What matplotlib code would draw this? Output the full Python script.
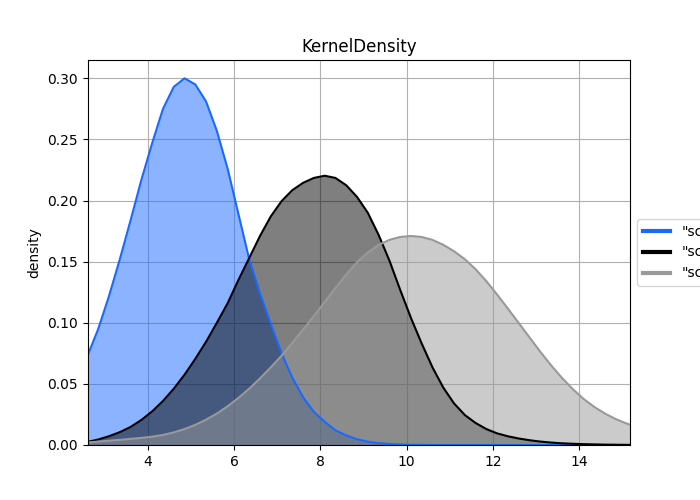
import matplotlib
matplotlib.use('Agg')
import matplotlib.pyplot as plt
from matplotlib.lines import Line2D


x = [2.60, 2.85, 3.10, 3.35, 3.60, 3.85, 4.10, 4.35, 4.60, 4.85,
     5.10, 5.35, 5.60, 5.85, 6.10, 6.35, 6.60, 6.85, 7.10, 7.35,
     7.60, 7.85, 8.10, 8.35, 8.60, 8.85, 9.10, 9.35, 9.60, 9.85,
     10.10, 10.35, 10.60, 10.85, 11.10, 11.35, 11.60, 11.85, 12.10, 12.35,
     12.60, 12.85, 13.10, 13.35, 13.60, 13.85, 14.10, 14.35, 14.60, 14.85,
     15.10, 15.18]

blue = [0.073, 0.095, 0.122, 0.152, 0.184, 0.217, 0.247, 0.275, 0.293, 0.300,
        0.295, 0.281, 0.257, 0.226, 0.189, 0.152, 0.124, 0.099, 0.075, 0.055,
        0.039, 0.027, 0.019, 0.012, 0.0078, 0.0047, 0.0027, 0.0015, 0.0008, 0.0004,
        0.0002, 0.0001, 0.0, 0.0, 0.0, 0.0, 0.0, 0.0, 0.0, 0.0,
        0.0, 0.0, 0.0, 0.0, 0.0, 0.0, 0.0, 0.0, 0.0, 0.0,
        0.0, 0.0]

black = [0.0025, 0.0045, 0.0072, 0.0105, 0.0148, 0.0205, 0.0275, 0.036, 0.046, 0.0575,
         0.0705, 0.0845, 0.100, 0.116, 0.135, 0.153, 0.171, 0.187, 0.1995, 0.2085,
         0.2145, 0.2185, 0.2203, 0.2185, 0.2125, 0.203, 0.190, 0.172, 0.151, 0.127,
         0.104, 0.083, 0.0635, 0.047, 0.034, 0.0245, 0.018, 0.013, 0.0095, 0.0071,
         0.0053, 0.0039, 0.0028, 0.002, 0.0014, 0.001, 0.0007, 0.0005, 0.0003, 0.0002,
         0.0001, 0.0001]

gray = [0.002, 0.0028, 0.0035, 0.0042, 0.005, 0.0058, 0.0068, 0.0082, 0.0103, 0.013,
        0.0165, 0.0207, 0.0257, 0.0317, 0.0385, 0.046, 0.0545, 0.0635, 0.073, 0.0835,
        0.0945, 0.1055, 0.117, 0.1285, 0.1395, 0.1495, 0.1575, 0.1637, 0.1678, 0.1702,
        0.171, 0.1702, 0.1678, 0.1638, 0.1585, 0.152, 0.1438, 0.134, 0.123, 0.1115,
        0.0998, 0.088, 0.0763, 0.0652, 0.055, 0.0458, 0.0378, 0.0312, 0.0257, 0.0212,
        0.0176, 0.0167]

labels = ['"scale=1.3"', '"scale=1.8"', '"scale=2.3"']
colors = ['#1a69ff', '#000000', '#999999']


def main():
    fig, ax = plt.subplots(figsize=(7, 5), dpi=100)
    series = [blue, black, gray]

    for ys, c in zip(series, colors):
        ax.fill_between(x, ys, 0, color=c, alpha=0.5, linewidth=0)
    for ys, c in zip(series, colors):
        ax.plot(x, ys, color=c, linewidth=1.5)

    ax.set_xlim(x[0], x[-1])
    ax.set_ylim(0, 0.315)
    ax.set_axisbelow(True)
    ax.grid(True)
    ax.set_title('KernelDensity')
    ax.set_ylabel('density')

    handles = [Line2D([0], [0], color=c, linewidth=3) for c in colors]
    ax.legend(handles, labels, loc='center left', bbox_to_anchor=(1, 0.5))

    fig.savefig('out.png')


if __name__ == '__main__':
    main()
